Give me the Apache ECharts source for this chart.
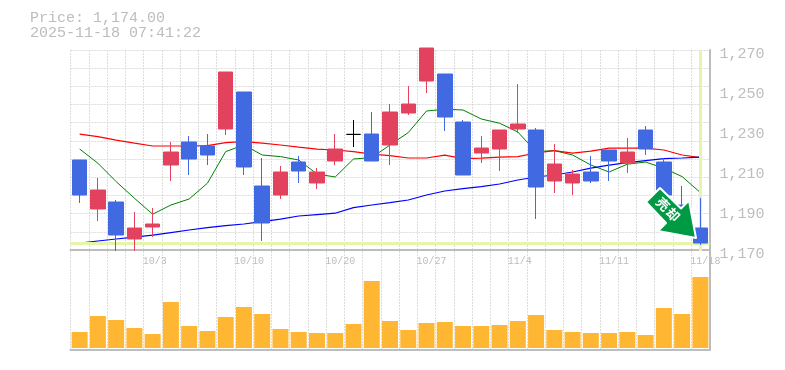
<!DOCTYPE html>
<html>
<head>
<meta charset="utf-8">
<style>
  html, body { margin: 0; padding: 0; background: #fff; }
  #chart { width: 785px; height: 370px; }
</style>
<script src="https://cdn.jsdelivr.net/npm/echarts@6/dist/echarts.min.js"></script>
</head>
<body>
<div id="chart"></div>
<script>
const FONT = '"Liberation Mono", monospace';
const GREY = '#bdbdbd';
const GRID_LINE = '#dcdcdc';
const PALE = '#e6f5ae';
const DASH = [2, 1];

const dates = [
  '9/25', '9/26', '9/29', '9/30', '10/3', '10/6', '10/7', '10/8', '10/9', '10/10',
  '10/14', '10/15', '10/16', '10/17', '10/20', '10/21', '10/22', '10/23', '10/24', '10/27',
  '10/28', '10/29', '10/30', '10/31', '11/4', '11/5', '11/6', '11/7', '11/10', '11/11',
  '11/12', '11/13', '11/14', '11/17', '11/18',
];
const dateLabels = ['10/3', '10/10', '10/20', '10/27', '11/4', '11/11', '11/18'];

const open = [
  1215.5, 1191, 1194.5, 1176, 1182, 1213, 1224.5, 1222.5, 1231, 1249.5,
  1202.5, 1198, 1214.5, 1204, 1215, 1228.3, 1228.5, 1223, 1239, 1255,
  1258.5, 1234.5, 1219, 1221, 1231, 1230.5, 1205, 1204, 1209.5, 1220.5,
  1214, 1230.5, 1214.5, 1193, 1181.5,
];
const close = [
  1198, 1200.5, 1178, 1181.5, 1183.5, 1219.5, 1216, 1218, 1259.5, 1212,
  1184, 1209.5, 1210, 1209.5, 1221, 1228.3, 1215, 1239.5, 1243.5, 1271.5,
  1237, 1208, 1221.5, 1230.5, 1233.5, 1202, 1213.5, 1208.5, 1205, 1215,
  1219.5, 1221, 1198, 1184, 1174,
];
const low = [
  1194, 1185, 1170, 1170, 1177, 1205, 1208, 1213, 1228, 1208,
  1175, 1196, 1204, 1201, 1213, 1222, 1215, 1213, 1238, 1249,
  1230, 1208, 1214, 1210, 1229, 1186, 1199, 1198, 1204, 1205,
  1209, 1218, 1196, 1181, 1173,
];
const high = [
  1215.5, 1206.5, 1195.5, 1189.5, 1191.5, 1224.5, 1227.5, 1228.5, 1259.5, 1249.5,
  1216.5, 1212.5, 1217.5, 1211.5, 1228.5, 1235.5, 1239.5, 1243.5, 1252.5, 1271.5,
  1258.5, 1235.5, 1227.5, 1230.5, 1253.5, 1231.5, 1223.5, 1210.5, 1217.5, 1220.5,
  1226.5, 1232.5, 1216.5, 1202.5, 1196.5,
];
const maShort = [
  1221, 1213.9, 1204.7, 1196.4, 1188.4, 1193, 1196, 1203.9, 1219.7, 1223,
  1218, 1217.2, 1215.5, 1208.5, 1207, 1216, 1216.7, 1223, 1229.2, 1240,
  1240.9, 1240.5, 1236, 1233.9, 1229.5, 1219.7, 1220.2, 1218, 1213, 1209.5,
  1213.4, 1214.5, 1211.4, 1207.2, 1199.2,
];
const maMid = [
  1228.4, 1227.2, 1225.4, 1223.9, 1222.5, 1222.5, 1222.5, 1222.7, 1224.2, 1224.7,
  1223.9, 1223, 1221.9, 1220.9, 1220.5, 1219.7, 1218.4, 1217.7, 1216.5, 1216.5,
  1217.9, 1216.2, 1216.4, 1216.9, 1217.2, 1219, 1220.2, 1218.9, 1219.9, 1221.4,
  1221.4, 1221.4, 1220.5, 1218, 1216.7,
];
const maLong = [
  1173.9, 1175, 1176, 1176.9, 1177.9, 1179.2, 1180.5, 1181.7, 1182.7, 1183.5,
  1184.7, 1185.9, 1187.5, 1188.2, 1188.9, 1191.7, 1193, 1194.2, 1195.5, 1198,
  1200, 1201.2, 1202.2, 1203.5, 1205.5, 1207, 1208, 1209.5, 1211.4, 1212.9,
  1214.2, 1215.2, 1216.2, 1216.5, 1216.9,
];
const volume = [
  16, 32, 28, 20, 14, 46, 22, 17, 31, 41,
  34, 19, 16, 15, 15, 24, 67, 27, 18, 25,
  26, 22, 22, 23, 27, 33, 18, 16, 15, 15,
  16, 13, 40, 34, 71,
];
const lastPrice = 1174;

const chart = echarts.init(document.getElementById('chart'), null, { renderer: 'canvas' });

const candles = dates.map((d, i) => [open[i], close[i], low[i], high[i]]);

const lineSeries = (name, data, color, width, z) => ({
  name,
  type: 'line',
  data,
  z,
  showSymbol: false,
  symbol: 'none',
  animation: false,
  lineStyle: { color, width },
});

const sharedXAxis = {
  type: 'category',
  data: dates,
  boundaryGap: true,
  axisTick: { show: false },
  axisPointer: { show: false },
};

const titleStyle = { fontFamily: FONT, fontSize: 15, fontWeight: 'normal', color: GREY };

chart.setOption({
  animation: false,
  backgroundColor: '#fff',
  title: [
    { text: 'Price: 1,174.00', left: 25, top: 6, textStyle: titleStyle },
    { text: '2025-11-18 07:41:22', left: 25, top: 21, textStyle: titleStyle },
  ],
  grid: [
    // vertical lattice and frame over both panels
    { left: 70.5, right: 75.5, top: 50, height: 300 },
    // price panel, 2px per yen
    { left: 70.5, right: 75.5, top: 51, height: 200 },
    // volume panel
    { left: 70.5, right: 75.5, top: 250, height: 100 },
    // horizontal lattice, 11 rows over the price panel
    { left: 70.5, right: 75.5, top: 50, height: 200 },
    // price labels sit a little below their levels
    { left: 70.5, right: 75.5, top: 54, height: 200 },
  ],
  xAxis: [
    {
      ...sharedXAxis,
      gridIndex: 0,
      axisLine: { show: true, lineStyle: { color: GREY, width: 2 } },
      axisLabel: { show: false },
      splitLine: { show: true, interval: 0, lineStyle: { color: GRID_LINE, type: DASH, width: 1 } },
    },
    {
      ...sharedXAxis,
      gridIndex: 1,
      axisLine: { show: false },
      axisLabel: { show: false },
      splitLine: { show: false },
    },
    {
      ...sharedXAxis,
      gridIndex: 2,
      position: 'top',
      axisLine: { show: false },
      splitLine: { show: false },
      axisLabel: {
        show: true,
        inside: true,
        margin: 6,
        interval: (i, v) => dateLabels.includes(v),
        fontFamily: FONT,
        fontSize: 10,
        color: GREY,
        align: 'left',
        padding: [0, 0, 0, -10],
      },
    },
    {
      ...sharedXAxis,
      gridIndex: 3,
      axisLine: { show: true, lineStyle: { color: GREY, width: 2 } },
      axisLabel: { show: false },
      splitLine: { show: false },
    },
    {
      ...sharedXAxis,
      gridIndex: 4,
      axisLine: { show: false },
      axisLabel: { show: false },
      splitLine: { show: false },
    },
  ],
  yAxis: [
    {
      type: 'value',
      gridIndex: 0,
      min: 0,
      max: 3,
      position: 'right',
      axisLabel: { show: false },
      axisTick: { show: false },
      axisLine: { show: true, lineStyle: { color: GREY, width: 2 } },
      splitLine: { show: false },
    },
    {
      type: 'value',
      gridIndex: 1,
      min: 1170,
      max: 1270,
      interval: 20,
      position: 'right',
      axisTick: { show: false },
      axisLine: { show: false },
      splitLine: { show: false },
      axisLabel: { show: false },
    },
    {
      type: 'value',
      gridIndex: 2,
      min: -2,
      max: 98,
      axisLabel: { show: false },
      axisTick: { show: false },
      axisLine: { show: false },
      splitLine: { show: false },
    },
    {
      type: 'value',
      gridIndex: 3,
      min: 0,
      max: 11,
      interval: 1,
      axisLabel: { show: false },
      axisTick: { show: false },
      axisLine: { show: false },
      splitLine: { show: true, lineStyle: { color: GRID_LINE, type: DASH, width: 1 } },
    },
    {
      type: 'value',
      gridIndex: 4,
      min: 1170,
      max: 1270,
      interval: 20,
      position: 'right',
      axisTick: { show: false },
      axisLine: { show: false },
      splitLine: { show: false },
      axisLabel: {
        margin: 10,
        fontFamily: FONT,
        fontSize: 15,
        color: GREY,
        formatter: (v) => v.toLocaleString('en-US'),
      },
    },
  ],
  series: [
    {
      name: 'last',
      type: 'line',
      xAxisIndex: 1,
      yAxisIndex: 1,
      data: [],
      z: 1,
      markLine: {
        silent: true,
        symbol: 'none',
        label: { show: false },
        lineStyle: { color: PALE, width: 3, type: 'solid' },
        data: [{ yAxis: lastPrice }, { xAxis: dates.length - 1 }],
      },
    },
    { ...lineSeries('MA short', maShort, '#008000', 1, 2), xAxisIndex: 1, yAxisIndex: 1 },
    { ...lineSeries('MA mid', maMid, '#ff0000', 1.2, 3), xAxisIndex: 1, yAxisIndex: 1 },
    { ...lineSeries('MA long', maLong, '#0000ff', 1.2, 4), xAxisIndex: 1, yAxisIndex: 1 },
    {
      name: 'Price',
      type: 'candlestick',
      xAxisIndex: 1,
      yAxisIndex: 1,
      data: candles,
      z: 5,
      clip: false,
      barWidth: 15,
      itemStyle: {
        color: '#e3425f',
        color0: '#4169e1',
        borderColor: '#e3425f',
        borderColor0: '#4169e1',
        borderColorDoji: '#000',
        borderWidth: 1,
      },
    },
    {
      name: 'Volume',
      type: 'bar',
      xAxisIndex: 2,
      yAxisIndex: 2,
      data: volume,
      barWidth: 16,
      z: 2,
      itemStyle: { color: '#ffb733' },
    },
  ],
  // sell signal sticker on the last candle
  graphic: [
    {
      type: 'polygon',
      z: 100,
      shape: {
        points: [
          [646, 202], [660, 188], [681, 208.5], [689, 200.5], [696, 238], [658, 231], [666, 223],
        ],
      },
      style: { fill: '#009944', stroke: '#fff', lineWidth: 2, lineJoin: 'round' },
    },
    {
      type: 'text',
      z: 101,
      x: 663,
      y: 204,
      rotation: -Math.PI / 4,
      style: {
        text: '売',
        fill: '#fff',
        font: 'bold 13px "Noto Sans CJK JP"',
        align: 'center',
        verticalAlign: 'middle',
      },
    },
    {
      type: 'text',
      z: 101,
      x: 673,
      y: 214.5,
      rotation: -Math.PI / 4,
      style: {
        text: '却',
        fill: '#fff',
        font: 'bold 13px "Noto Sans CJK JP"',
        align: 'center',
        verticalAlign: 'middle',
      },
    },
  ],
});
</script>
</body>
</html>
